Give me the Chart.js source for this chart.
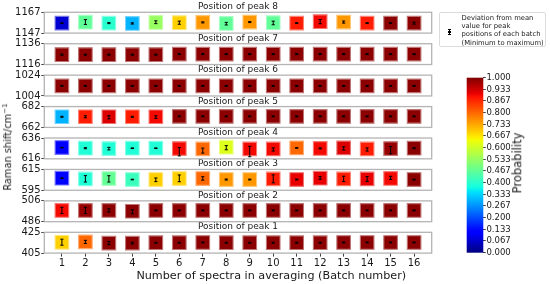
<!DOCTYPE html>
<html><head><meta charset="utf-8">
<script src="https://cdn.jsdelivr.net/npm/chart.js@4.4.1/dist/chart.umd.min.js"></script>
<style>
html,body{margin:0;padding:0;background:#fff;}
#wrap{position:relative;width:550px;height:284px;overflow:hidden;font-family:'DejaVu Sans',sans-serif;color:#1a1a1a;}
#wrap canvas{position:absolute;left:0;top:0;pointer-events:none;}
.lab{position:absolute;white-space:nowrap;line-height:1;}
#ylab{left:8.3px;top:147.4px;font-size:9.8px;transform:translate(-50%,-50%) rotate(-90deg);}
#ylab sup{font-size:7px;vertical-align:4px;line-height:0;}
#xlab{left:271.3px;top:270.3px;font-size:11.2px;transform:translateX(-50%);}
#cblab{left:518.3px;top:163px;font-size:11.5px;transform:translate(-50%,-50%) rotate(-90deg);}
#legend{position:absolute;left:439.3px;top:12px;width:106.4px;height:35.3px;border:1px solid #dcdcdc;border-radius:2px;background:#fff;box-sizing:border-box;}
#legend .txt{position:absolute;left:21.2px;top:1.3px;font-size:6.8px;line-height:8.1px;white-space:nowrap;}
#legend .eb{position:absolute;left:8.9px;top:16.2px;width:1px;height:5.5px;background:#000;}
#legend .cap1,#legend .cap2{position:absolute;left:7.9px;width:3px;height:1px;background:#000;}
#legend .cap1{top:16.2px;}
#legend .cap2{top:20.7px;}
#legend .dot{position:absolute;left:8.1px;top:17.8px;width:2.6px;height:2.6px;background:#000;}
</style></head><body>
<div id="wrap">
  <div id="ylab" class="lab">Raman shift/cm<sup>−1</sup></div>
  <div id="xlab" class="lab">Number of spectra in averaging (Batch number)</div>
  <div id="cblab" class="lab">Probability</div>
  <div id="legend"><div class="eb"></div><div class="cap1"></div><div class="cap2"></div><div class="dot"></div>
    <div class="txt">Deviation from mean<br>value for peak<br>positions of each batch<br>(Minimum to maximum)</div></div>
</div>
<script>
// ---------------- DATA ----------------
const batches = [1,2,3,4,5,6,7,8,9,10,11,12,13,14,15,16];
const panelTitles = ['Position of peak 8','Position of peak 7','Position of peak 6','Position of peak 5',
                     'Position of peak 4','Position of peak 3','Position of peak 2','Position of peak 1'];
const yMins = [1147,1116,1004,662,616,595,486,405];
const yMaxs = [1167,1136,1024,682,636,615,506,425];

const peak8Mean = [1156.6,1157.5,1156.6,1156.3,1157.3,1157,1157.3,1156.3,1157.6,1157,1156.6,1158,1157.6,1156.6,1156.6,1156.6];
const peak8Low  = [0.3,2.2,0.5,0.6,1.2,1.5,0.5,1.5,0.5,2,0.4,2,1,0.4,0.4,1];
const peak8High = [0.3,2.5,0.5,0.6,1.5,1.5,0.5,1,0.5,1.5,0.4,2,1,0.4,0.4,1];
const peak8Prob = [0.07,0.467,0.4,0.3,0.533,0.69,0.75,0.467,0.75,0.467,0.88,0.9,0.75,0.88,0.99,0.99];

const peak7Mean = [1125.5,1125.5,1125.5,1125.5,1125.5,1126,1126,1126,1126,1126,1126,1126,1126,1126,1126,1126];
const peak7Low  = [0.6,0.5,0.5,0.5,0.5,0.5,0.5,0.5,0.5,0.5,0.5,0.5,0.5,0.5,0.5,0.5];
const peak7High = [0.6,0.5,0.5,0.5,0.5,0.5,0.5,0.5,0.5,0.5,0.5,0.5,0.5,0.5,0.5,0.5];
const peak7Prob = [0.99,0.99,0.99,0.99,0.99,0.99,0.99,0.99,0.99,0.99,0.99,0.99,0.99,0.99,0.99,0.99];

const peak6Mean = [1013.7,1013.7,1013.7,1013.7,1013.7,1013.7,1013.7,1013.7,1013.7,1013.7,1013.7,1013.7,1013.7,1013.7,1013.7,1013.7];
const peak6Low  = [0.4,0.4,0.4,0.4,0.4,0.4,0.4,0.4,0.4,0.4,0.4,0.4,0.4,0.4,0.4,0.4];
const peak6High = [0.4,0.4,0.4,0.4,0.4,0.4,0.4,0.4,0.4,0.4,0.4,0.4,0.4,0.4,0.4,0.4];
const peak6Prob = [0.99,0.99,0.99,0.99,0.99,0.99,0.99,0.99,0.99,0.99,0.99,0.99,0.99,0.99,0.99,0.99];

const peak5Mean = [672.2,672.2,672.2,672.2,672.2,672.6,672.6,672.6,672.6,672.6,672.6,672.6,672.6,672.6,672.6,672.6];
const peak5Low  = [0.5,1,2,0.5,1.5,0.4,0.4,0.4,0.4,0.4,0.4,0.4,0.4,0.4,0.4,0.4];
const peak5High = [0.5,1,1,0.5,1,0.4,0.4,0.4,0.4,0.4,0.4,0.4,0.4,0.4,0.4,0.4];
const peak5Prob = [0.3,0.88,0.92,0.88,0.9,0.99,0.99,0.99,0.99,0.99,0.99,0.99,0.99,0.99,0.99,0.99];

const peak4Mean = [626.8,626.2,625.8,626.2,626.2,625.8,625.5,627.2,625.5,625.5,626.5,626,626.5,625.5,625.8,626.2];
const peak4Low  = [0.3,0.5,1.2,0.3,0.3,7,4,2.5,7.5,2,0.3,0.5,2,2,5,0.5];
const peak4High = [0.3,0.5,1.2,0.3,0.3,1,0.8,1.5,2.5,1,0.3,0.5,1,1,2,0.5];
const peak4Prob = [0.12,0.39,0.39,0.39,0.39,0.9,0.8,0.617,0.9,0.9,0.8,0.9,0.92,0.88,0.98,0.99];

const peak3Mean = [606.6,605.9,606.2,605.3,605.3,606.2,606.2,605.3,605.3,605.9,605.3,606.6,605.9,605.9,606.4,605.3];
const peak3Low  = [0.3,3,3.3,0.3,2,3,1.5,0.5,0.4,3.8,0.4,1,2.6,2.4,1,0.4];
const peak3High = [0.3,3.2,2.8,0.3,1.5,3.5,1.8,0.5,0.4,3.9,0.4,1.5,2.6,2.2,2,0.4];
const peak3Prob = [0.11,0.39,0.47,0.42,0.69,0.69,0.8,0.75,0.75,0.88,0.91,0.91,0.88,0.91,0.9,0.99];

const peak2Mean = [496.8,496.8,496.8,496,496.8,496.8,496.8,496.8,496.8,496.8,496.8,496.8,496.8,496.8,496.8,496.8];
const peak2Low  = [3,3,1.5,2.5,0.4,0.4,0.4,0.4,0.4,0.4,0.4,0.4,0.4,0.4,0.4,0.4];
const peak2High = [3,3,1.5,1.5,0.4,0.4,0.4,0.4,0.4,0.4,0.4,0.4,0.4,0.4,0.4,0.4];
const peak2Prob = [0.9,0.98,0.99,0.99,0.99,0.99,0.99,0.99,0.99,0.99,0.99,0.99,0.99,0.99,0.99,0.99];

const peak1Mean = [415.4,415.8,414.6,414.6,415,415,415.2,415,415,415,415,415,415.2,415.2,415.2,415.2];
const peak1Low  = [2.8,1.5,1.5,0.8,0.4,0.4,0.4,0.4,0.4,0.4,0.4,0.4,0.4,0.4,0.4,0.4];
const peak1High = [3,1.5,1.5,0.8,0.4,0.4,0.4,0.4,0.4,0.4,0.4,0.4,0.4,0.4,0.4,0.4];
const peak1Prob = [0.69,0.8,0.99,0.99,0.99,0.99,0.99,0.99,0.99,0.99,0.99,0.99,0.99,0.99,0.99,0.99];

const cbTickLabels = ['0.000','0.067','0.133','0.200','0.267','0.333','0.400','0.467','0.533','0.600','0.667','0.733','0.800','0.867','0.933','1.000'];

// ---------------- RENDERING ----------------
const means = [peak8Mean,peak7Mean,peak6Mean,peak5Mean,peak4Mean,peak3Mean,peak2Mean,peak1Mean];
const lows  = [peak8Low,peak7Low,peak6Low,peak5Low,peak4Low,peak3Low,peak2Low,peak1Low];
const highs = [peak8High,peak7High,peak6High,peak5High,peak4High,peak3High,peak2High,peak1High];
const probs = [peak8Prob,peak7Prob,peak6Prob,peak5Prob,peak4Prob,peak3Prob,peak2Prob,peak1Prob];

Chart.defaults.font.family = "'DejaVu Sans', sans-serif";
Chart.defaults.color = '#1a1a1a';

function interp(pts, v){
  for (let i=1;i<pts.length;i++){
    if (v <= pts[i][0]){
      const [x0,y0]=pts[i-1],[x1,y1]=pts[i];
      return y0 + (y1-y0)*(v-x0)/(x1-x0);
    }
  }
  return pts[pts.length-1][1];
}
const JR=[[0,0],[0.35,0],[0.66,1],[0.89,1],[1,0.5]];
const JG=[[0,0],[0.125,0],[0.375,1],[0.64,1],[0.91,0],[1,0]];
const JB=[[0,0.5],[0.11,1],[0.34,1],[0.65,0],[1,0]];
function jetRGB(v){ v=Math.max(0,Math.min(1,v)); return [interp(JR,v),interp(JG,v),interp(JB,v)].map(c=>Math.round(c*255)); }
function jet(v,mix){ const c=jetRGB(v); if(mix){ return 'rgb('+c.map(x=>Math.round(x+(255-x)*mix)).join(',')+')'; } return 'rgb('+c.join(',')+')'; }

const W=550,H=284;
const wrap=document.getElementById('wrap');
function mkCanvas(){ const c=document.createElement('canvas'); c.width=W;c.height=H; c.style.width=W+'px';c.style.height=H+'px'; wrap.insertBefore(c, wrap.firstChild); return c; }

const plotLeft=44.3, plotRight=431.7;
const firstTop=12.3, pitch=31.43, panelH=20.8;

for (let p=0;p<8;p++){
  const top=firstTop+pitch*p, bottom=top+panelH;
  const isLast = (p===7);
  const mean=means[p], lo=lows[p], hi=highs[p], pr=probs[p];
  const ymin=yMins[p], ymax=yMaxs[p];
  const title=panelTitles[p];
  const panelPlugin={
    id:'panel'+p,
    afterDatasetsDraw(chart){
      const {ctx, scales:{x,y}}=chart;
      ctx.save();
      ctx.strokeStyle='#000'; ctx.fillStyle='#000'; ctx.lineWidth=1;
      for(let i=0;i<batches.length;i++){
        const px=x.getPixelForValue(batches[i]);
        const y1=y.getPixelForValue(mean[i]-lo[i]);
        const y2=y.getPixelForValue(mean[i]+hi[i]);
        ctx.beginPath();
        ctx.moveTo(px,y1);ctx.lineTo(px,y2);
        ctx.moveTo(px-1.6,y1);ctx.lineTo(px+1.6,y1);
        ctx.moveTo(px-1.6,y2);ctx.lineTo(px+1.6,y2);
        ctx.stroke();
      }
      ctx.restore();
    },
    afterDraw(chart){
      const {ctx, chartArea:a}=chart;
      ctx.save();
      ctx.strokeStyle='#b4b4b4'; ctx.lineWidth=1.3;
      ctx.strokeRect(a.left,a.top,a.right-a.left,a.bottom-a.top);
      ctx.fillStyle='#1a1a1a'; ctx.font="9px 'DejaVu Sans'";
      ctx.textAlign='center'; ctx.textBaseline='alphabetic';
      ctx.fillText(title,(a.left+a.right)/2,a.top-3);
      ctx.restore();
    }
  };
  new Chart(mkCanvas(),{
    type:'scatter',
    data:{datasets:[
      {data:batches.map((b,i)=>({x:b,y:mean[i]})),
       pointStyle:'rect', pointRadius:9.6, pointHoverRadius:9.6,
       backgroundColor:pr.map(v=>jet(v)), borderColor:pr.map(v=>jet(v,0.45)), borderWidth:1.1},
      {data:batches.map((b,i)=>({x:b,y:mean[i]})),
       pointStyle:'rect', pointRadius:1.9, backgroundColor:'#000', borderWidth:0}
    ]},
    options:{
      responsive:false, animation:false, devicePixelRatio:1,
      layout:{padding:{left:0,right:W-plotRight,top:top,bottom:isLast?0:(H-bottom)}},
      plugins:{legend:{display:false},tooltip:{enabled:false},title:{display:false}},
      scales:{
        x:{type:'linear',min:0.25,max:16.75,display:isLast,
           afterBuildTicks:ax=>{ax.ticks=batches.map(v=>({value:v}));},
           afterFit:ax=>{ax.height=isLast?(H-bottom):0;},
           ticks:{font:{size:10},padding:1,color:'#1a1a1a',autoSkip:false,maxRotation:0,callback:v=>String(v)},
           grid:{display:true,drawOnChartArea:false,drawTicks:true,tickLength:3.5,color:'#444'},
           border:{display:false}},
        y:{type:'linear',min:ymin,max:ymax,
           afterBuildTicks:ax=>{ax.ticks=[{value:ymin},{value:ymax}];},
           afterFit:ax=>{ax.width=plotLeft;},
           ticks:{font:{size:10},padding:0.8,color:'#1a1a1a',autoSkip:false,callback:v=>String(v)},
           grid:{display:true,drawOnChartArea:false,drawTicks:true,tickLength:3,color:'#444'},
           border:{display:false}}
      }
    },
    plugins:[panelPlugin]
  });
}

// Colorbar
const cbValues = cbTickLabels.map(Number);
const cbPlugin={
  id:'cb',
  beforeDatasetsDraw(chart){
    const {ctx, chartArea:a}=chart;
    const g=ctx.createLinearGradient(0,a.bottom,0,a.top);
    for(let i=0;i<=100;i++){ g.addColorStop(i/100, jet(i/100)); }
    ctx.save(); ctx.fillStyle=g; ctx.fillRect(a.left,a.top,a.right-a.left,a.bottom-a.top); ctx.restore();
  }
};
new Chart(mkCanvas(),{
  type:'scatter',
  data:{datasets:[]},
  options:{
    responsive:false, animation:false, devicePixelRatio:1,
    layout:{padding:{left:466.7,right:0,top:77.7,bottom:31.3}},
    plugins:{legend:{display:false},tooltip:{enabled:false}},
    scales:{
      x:{display:false,min:0,max:1},
      y:{position:'right',min:0,max:1,
         afterBuildTicks:ax=>{ax.ticks=cbValues.map(v=>({value:v}));},
         afterFit:ax=>{ax.width=W-483.3;},
         ticks:{font:{size:8.5},padding:0.6,color:'#1a1a1a',autoSkip:false,callback:(v,i)=>cbTickLabels[i]},
         grid:{display:true,drawOnChartArea:false,drawTicks:true,tickLength:2.5,color:'#444'},
         border:{display:false}}
    }
  },
  plugins:[cbPlugin]
});
</script>
</body></html>
